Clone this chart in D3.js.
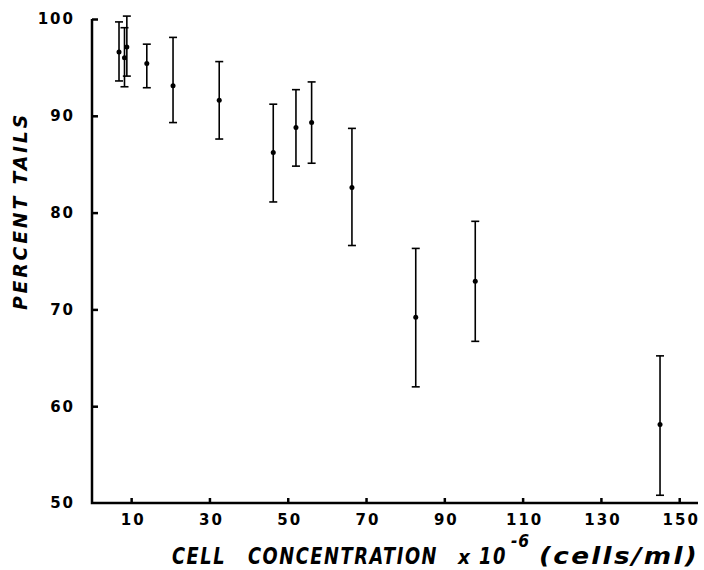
<!DOCTYPE html>
<html>
<head>
<meta charset="utf-8">
<script src="https://cdn.jsdelivr.net/npm/d3@7"></script>
<style>
  html, body { margin: 0; padding: 0; background: #fff; }
  svg { display: block; }
  .tick text { font-family: "DejaVu Sans", sans-serif; font-weight: bold; font-size: 15px; letter-spacing: 2px; fill: #000; }
  .title { font-family: "DejaVu Sans", sans-serif; font-weight: bold; font-style: italic; fill: #000; }
</style>
</head>
<body>
<svg id="chart" width="704" height="570"></svg>
<script>
// Cell concentration (x10^6 cells/ml)
const concentration = [6.9, 8.3, 8.9, 14.0, 20.7, 32.5, 46.3, 52.1, 56.1, 66.4, 82.7, 97.9, 145.1];
// Percent tails (mean)
const percentTails = [96.6, 96.0, 97.1, 95.4, 93.1, 91.6, 86.2, 88.8, 89.3, 82.6, 69.2, 72.9, 58.1];
// Error bar upper / lower limits
const upperLimit = [99.7, 99.1, 100.3, 97.4, 98.1, 95.6, 91.2, 92.7, 93.5, 88.7, 76.3, 79.1, 65.2];
const lowerLimit = [93.6, 93.0, 94.1, 92.9, 89.3, 87.6, 81.1, 84.8, 85.1, 76.6, 62.0, 66.7, 50.8];
// Axis ticks
const xTicks = [10, 30, 50, 70, 90, 110, 130, 150];
const yTicks = [50, 60, 70, 80, 90, 100];
// Titles
const yTitle = "PERCENT TAILS";
const xTitleParts = ["CELL", "CONCENTRATION", "x", "10", "-6", "(cells/ml)"];

const data = concentration.map((c, i) => ({ x: c, y: percentTails[i], hi: upperLimit[i], lo: lowerLimit[i] }));

const svg = d3.select("#chart");
const mLeft = 92, mRight = 698, mTop = 19, mBottom = 503;

const x = d3.scaleLinear().domain([0, 154.8]).range([mLeft, mRight]);
const y = d3.scaleLinear().domain([50, 100]).range([mBottom, mTop]);

// Y axis (ticks point inward)
const yAxis = svg.append("g")
  .attr("transform", `translate(${mLeft},0)`)
  .call(d3.axisLeft(y).tickValues(yTicks).tickSize(-6).tickSizeOuter(0).tickPadding(17).tickFormat(d3.format("d")));

// X axis
const xAxis = svg.append("g")
  .attr("transform", `translate(0,${mBottom})`)
  .call(d3.axisBottom(x).tickValues(xTicks).tickSize(-5).tickSizeOuter(0).tickPadding(11).tickFormat(d3.format("d")));

[yAxis, xAxis].forEach(g => {
  g.select(".domain").remove();
  g.selectAll(".tick line").attr("stroke", "#000").attr("stroke-width", 2.5);
  g.selectAll(".tick text").attr("fill", "#000");
});
yAxis.selectAll(".tick text").attr("x", -17).attr("text-anchor", "end");
yAxis.selectAll(".tick line").filter(d => d === 50).remove();
xAxis.selectAll(".tick text").attr("dx", "0.1em");

// Axis lines (L shape)
svg.append("path")
  .attr("d", d3.line()([[mLeft, y(100)], [mLeft, y(50)], [mRight, y(50)]]))
  .attr("fill", "none").attr("stroke", "#000").attr("stroke-width", 2.5);

// Error bars
const capW = 4;
const bars = svg.append("g").attr("stroke", "#000").attr("stroke-width", 1.6).attr("fill", "none");
bars.selectAll("line.v").data(data).join("line").attr("class", "v")
  .attr("x1", d => x(d.x)).attr("x2", d => x(d.x))
  .attr("y1", d => y(d.hi)).attr("y2", d => y(d.lo));
bars.selectAll("line.capTop").data(data).join("line").attr("class", "capTop")
  .attr("x1", d => x(d.x) - capW).attr("x2", d => x(d.x) + capW)
  .attr("y1", d => y(d.hi)).attr("y2", d => y(d.hi));
bars.selectAll("line.capBot").data(data).join("line").attr("class", "capBot")
  .attr("x1", d => x(d.x) - capW).attr("x2", d => x(d.x) + capW)
  .attr("y1", d => y(d.lo)).attr("y2", d => y(d.lo));

// Points
svg.append("g").selectAll("circle").data(data).join("circle")
  .attr("cx", d => x(d.x)).attr("cy", d => y(d.y)).attr("r", 2.5).attr("fill", "#000");

// Y axis title
svg.append("text")
  .attr("class", "title")
  .attr("transform", "translate(27,211) rotate(-90)")
  .attr("text-anchor", "middle")
  .style("font-size", "20px")
  .style("letter-spacing", "3px")
  .attr("textLength", 198).attr("lengthAdjust", "spacingAndGlyphs")
  .text(yTitle);

// X axis title, in positioned pieces
const pieces = [
  { t: xTitleParts[0], x: 172, len: 54, y: 564, fs: 23, ls: 2 },
  { t: xTitleParts[1], x: 248, len: 190, y: 564, fs: 23, ls: 2 },
  { t: xTitleParts[2], x: 458, len: 12, y: 564, fs: 20, ls: 0 },
  { t: xTitleParts[3], x: 479, len: 28, y: 564, fs: 23, ls: 2 },
  { t: xTitleParts[4], x: 511, len: 19, y: 547, fs: 18, ls: 1 },
  { t: xTitleParts[5], x: 539, len: 160, y: 564, fs: 23, ls: 2 }
];
svg.append("g").selectAll("text").data(pieces).join("text")
  .attr("class", "title")
  .attr("x", d => d.x).attr("y", d => d.y)
  .style("font-size", d => d.fs + "px")
  .style("letter-spacing", d => d.ls + "px")
  .attr("textLength", d => d.len).attr("lengthAdjust", "spacingAndGlyphs")
  .text(d => d.t);
</script>
</body>
</html>
